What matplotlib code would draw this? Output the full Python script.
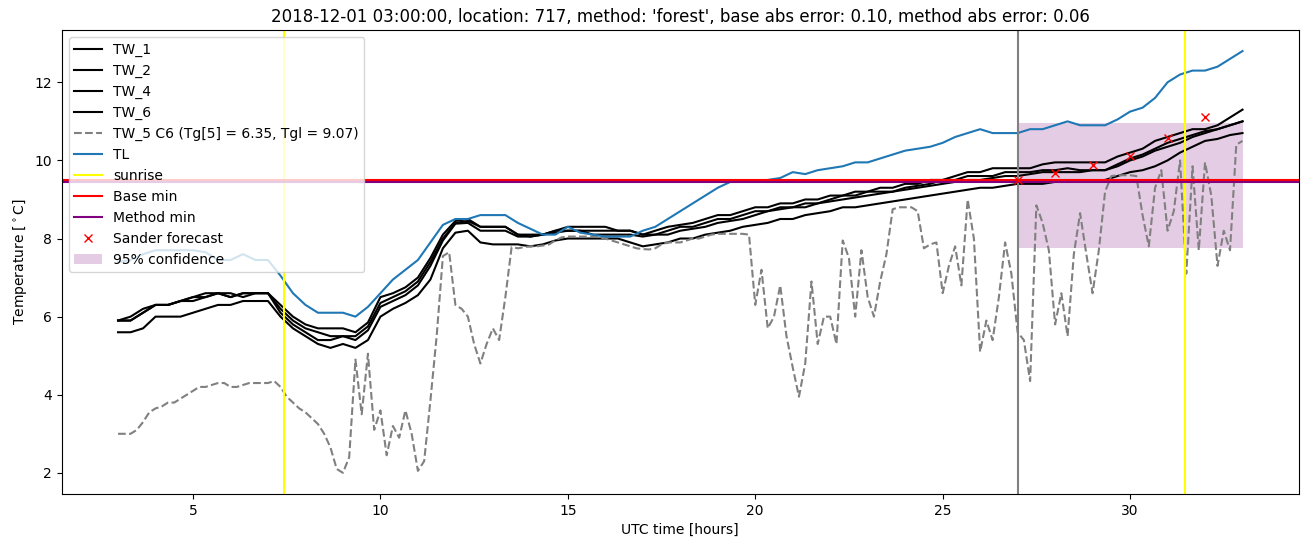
import numpy as np
import matplotlib
matplotlib.use("Agg")
import matplotlib.pyplot as plt

# time grid for the TW/TL series: every 20 minutes, 03:00 -> 33:00 (hours)
t_20min = np.arange(180, 1981, 20) / 60.0
# time grid for TW_5: every 10 minutes
t_10min = np.arange(180, 1981, 10) / 60.0

tw_1 = [5.9, 5.9, 6.1, 6.3, 6.3, 6.4, 6.5, 6.6, 6.6, 6.5, 6.6, 6.6, 6.6, 6.3, 6.0, 5.8,
        5.7, 5.7, 5.7, 5.6, 5.85, 6.5, 6.6, 6.75, 7.0, 7.5, 8.1, 8.45, 8.5, 8.3, 8.3, 8.3,
        8.1, 8.1, 8.1, 8.2, 8.3, 8.3, 8.3, 8.3, 8.2, 8.2, 8.1, 8.2, 8.3, 8.35, 8.4, 8.5,
        8.6, 8.6, 8.7, 8.8, 8.8, 8.9, 8.9, 9.0, 9.0, 9.1, 9.1, 9.2, 9.2, 9.3, 9.3, 9.4,
        9.4, 9.5, 9.5, 9.6, 9.7, 9.7, 9.8, 9.8, 9.8, 9.8, 9.9, 9.95, 9.95, 9.95, 9.95, 9.95,
        10.1, 10.2, 10.3, 10.5, 10.6, 10.7, 10.8, 10.8, 10.9, 11.1, 11.3]
tw_2 = [5.9, 6.0, 6.2, 6.3, 6.3, 6.4, 6.5, 6.5, 6.6, 6.5, 6.6, 6.6, 6.6, 6.2, 5.9, 5.7,
        5.6, 5.5, 5.5, 5.5, 5.75, 6.35, 6.5, 6.65, 6.9, 7.4, 8.0, 8.4, 8.45, 8.3, 8.3, 8.3,
        8.1, 8.05, 8.1, 8.2, 8.2, 8.2, 8.2, 8.2, 8.2, 8.2, 8.1, 8.1, 8.2, 8.3, 8.3, 8.4,
        8.5, 8.5, 8.6, 8.7, 8.7, 8.8, 8.8, 8.9, 8.9, 9.0, 9.1, 9.1, 9.2, 9.2, 9.2, 9.3,
        9.35, 9.4, 9.5, 9.5, 9.6, 9.6, 9.6, 9.7, 9.7, 9.7, 9.75, 9.75, 9.8, 9.75, 9.75, 9.75,
        9.9, 10.05, 10.15, 10.3, 10.45, 10.55, 10.65, 10.75, 10.8, 10.9, 11.0]
tw_4 = [5.9, 5.9, 6.1, 6.3, 6.3, 6.4, 6.4, 6.5, 6.6, 6.6, 6.5, 6.6, 6.6, 6.1, 5.8, 5.6,
        5.4, 5.4, 5.5, 5.4, 5.65, 6.25, 6.4, 6.55, 6.8, 7.3, 7.95, 8.38, 8.4, 8.2, 8.2, 8.2,
        8.05, 8.05, 8.1, 8.15, 8.2, 8.2, 8.1, 8.1, 8.1, 8.1, 8.05, 8.1, 8.1, 8.2, 8.25, 8.3,
        8.4, 8.45, 8.5, 8.6, 8.7, 8.75, 8.8, 8.8, 8.9, 8.95, 9.0, 9.05, 9.1, 9.15, 9.2, 9.25,
        9.3, 9.35, 9.4, 9.45, 9.5, 9.5, 9.55, 9.6, 9.6, 9.65, 9.7, 9.7, 9.7, 9.7, 9.75, 9.75,
        9.85, 10.0, 10.1, 10.25, 10.35, 10.45, 10.6, 10.7, 10.8, 10.9, 11.0]
tw_6 = [5.6, 5.6, 5.7, 6.0, 6.0, 6.0, 6.1, 6.2, 6.3, 6.3, 6.4, 6.4, 6.4, 6.0, 5.7, 5.5,
        5.3, 5.2, 5.3, 5.2, 5.4, 6.0, 6.2, 6.35, 6.55, 6.95, 7.75, 8.15, 8.2, 7.9, 7.85, 7.85,
        7.85, 7.8, 7.85, 7.95, 8.0, 8.0, 8.0, 8.0, 8.0, 7.9, 7.8, 7.85, 7.9, 8.0, 8.0, 8.1,
        8.15, 8.2, 8.3, 8.35, 8.4, 8.5, 8.5, 8.6, 8.65, 8.7, 8.8, 8.8, 8.85, 8.9, 8.95, 9.0,
        9.05, 9.1, 9.15, 9.2, 9.25, 9.3, 9.3, 9.35, 9.4, 9.4, 9.4, 9.45, 9.45, 9.45, 9.45, 9.5,
        9.6, 9.7, 9.75, 9.85, 10.0, 10.2, 10.35, 10.5, 10.55, 10.65, 10.7]
tl = [7.4, 7.45, 7.6, 7.7, 7.7, 7.7, 7.7, 7.65, 7.45, 7.45, 7.6, 7.45, 7.45, 7.05, 6.6, 6.3,
      6.1, 6.1, 6.1, 6.0, 6.25, 6.6, 6.95, 7.2, 7.45, 7.9, 8.35, 8.5, 8.5, 8.6, 8.6, 8.6,
      8.4, 8.25, 8.1, 8.1, 8.3, 8.15, 8.1, 8.05, 8.05, 8.05, 8.2, 8.3, 8.5, 8.7, 8.9, 9.1,
      9.3, 9.45, 9.45, 9.45, 9.5, 9.55, 9.7, 9.65, 9.75, 9.8, 9.85, 9.95, 9.95, 10.05, 10.15, 10.25,
      10.3, 10.35, 10.45, 10.6, 10.7, 10.8, 10.7, 10.7, 10.7, 10.8, 10.8, 10.9, 11.0, 10.9, 10.9, 10.9,
      11.05, 11.25, 11.35, 11.6, 12.0, 12.2, 12.3, 12.3, 12.4, 12.6, 12.8]
tw_5 = [3.0, 3.0, 3.0, 3.1, 3.3, 3.55, 3.65, 3.7, 3.8, 3.8, 3.9, 4.0, 4.1, 4.2, 4.2, 4.25,
        4.3, 4.3, 4.2, 4.2, 4.25, 4.3, 4.3, 4.3, 4.3, 4.35, 4.2, 3.95, 3.8, 3.65, 3.55, 3.4,
        3.25, 3.0, 2.65, 2.1, 2.0, 2.4, 4.9, 3.5, 5.05, 3.1, 3.6, 2.45, 3.2, 2.9, 3.6, 3.0,
        2.05, 2.3, 3.85, 5.5, 7.55, 7.65, 6.3, 6.2, 6.0, 5.3, 4.8, 5.3, 5.7, 5.4, 6.5, 7.78,
        7.75, 7.78, 7.8, 7.8, 7.82, 7.85, 7.95, 8.03, 8.05, 8.05, 8.05, 8.05, 8.05, 8.03, 8.0, 7.95,
        7.9, 7.85, 7.8, 7.75, 7.73, 7.72, 7.75, 7.85, 7.9, 7.9, 7.9, 7.95, 8.0, 8.0, 8.05, 8.1,
        8.12, 8.12, 8.12, 8.12, 8.12, 8.1, 6.3, 7.2, 5.7, 6.0, 6.8, 5.5, 4.7, 3.95, 4.8, 6.9,
        5.3, 6.0, 6.0, 5.3, 7.95, 7.5, 6.0, 7.7, 6.5, 6.0, 6.9, 7.6, 8.75, 8.8, 8.8, 8.8,
        8.7, 7.75, 7.85, 7.9, 6.6, 7.3, 7.8, 6.8, 9.0, 8.0, 5.1, 5.9, 5.4, 6.5, 7.9, 7.1,
        5.6, 5.4, 4.35, 8.85, 8.4, 7.7, 5.8, 6.6, 5.5, 7.6, 8.65, 7.6, 6.6, 7.7, 9.2, 9.6,
        9.62, 9.62, 9.62, 9.6, 8.6, 7.8, 9.3, 9.75, 8.2, 8.7, 10.0, 7.1, 9.85, 7.7, 9.95, 9.1,
        7.3, 8.2, 7.7, 10.4, 10.5]

sunrise = [7.43, 31.47]
forecast_start = 27.0
base_min = 9.50
method_min = 9.46
sander_t = [27, 28, 29, 30, 31, 32]
sander_v = [9.49, 9.68, 9.87, 10.12, 10.58, 11.12]
conf_t = [27, 33]
conf_low = [7.75, 7.75]
conf_high = [10.97, 10.97]

fig = plt.figure(figsize=(13.1, 5.47), dpi=100)
ax = fig.add_axes([0.0472, 0.0970, 0.9442, 0.8482])

ax.plot(t_20min, tw_1, color='black', label='TW_1')
ax.plot(t_20min, tw_2, color='black', label='TW_2')
ax.plot(t_20min, tw_4, color='black', label='TW_4')
ax.plot(t_20min, tw_6, color='black', label='TW_6')
ax.plot(t_10min, tw_5, color='gray', linestyle='--',
        label='TW_5 C6 (Tg[5] = 6.35, Tgl = 9.07)')
ax.plot(t_20min, tl, color='tab:blue', label='TL')

ax.axvline(sunrise[0], color='yellow', label='sunrise')
ax.axvline(sunrise[1], color='yellow')
ax.axvline(forecast_start, color='gray')
ax.axhline(base_min, color='red', label='Base min')
ax.axhline(method_min, color='purple', label='Method min')
ax.plot(sander_t, sander_v, 'x', color='red', label='Sander forecast')
ax.fill_between(conf_t, conf_low, conf_high, color='purple', alpha=0.2,
                linewidth=0, label='95% confidence')

ax.set_xlim(1.5, 34.5)
ax.set_xlabel('UTC time [hours]')
ax.set_ylabel('Temperature [$^\\circ$C]')
ax.set_title("2018-12-01 03:00:00, location: 717, method: 'forest', "
             "base abs error: 0.10, method abs error: 0.06")
ax.legend(loc='upper left')

fig.savefig('out.png', dpi=100)
